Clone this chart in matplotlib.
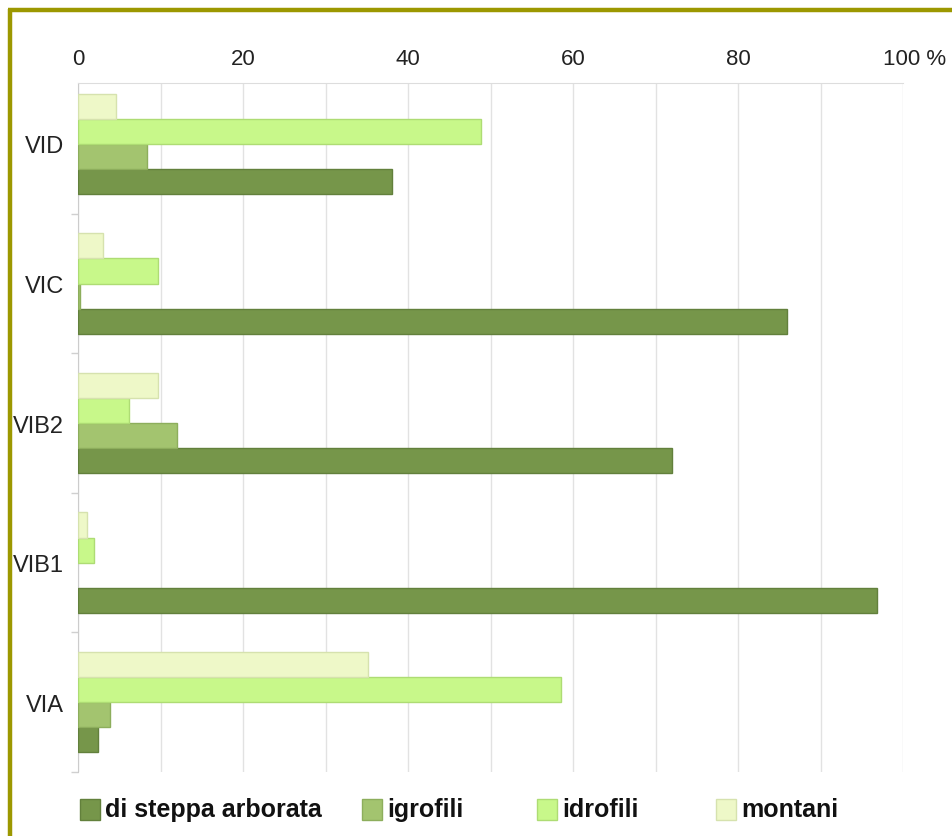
import numpy as np
import matplotlib.pyplot as plt
from matplotlib.patches import Rectangle
from matplotlib.transforms import ScaledTranslation
from matplotlib.lines import Line2D

plt.rcParams['font.family'] = ['Liberation Sans', 'DejaVu Sans']

# data (percent), categories listed bottom -> top
categories = ["VIA", "VIB1", "VIB2", "VIC", "VID"]
series = ["di steppa arborata", "igrofili", "idrofili", "montani"]
steppa = [2.4, 96.8, 72.0, 85.9, 38.1]
igrofili = [3.9, 0.0, 12.0, 0.3, 8.4]
idrofili = [58.5, 1.9, 6.2, 9.7, 48.8]
montani = [35.2, 1.1, 9.7, 3.0, 4.6]
values = [steppa, igrofili, idrofili, montani]

colors = ["#76964a", "#a3c46f", "#c8f88a", "#eef8c8"]
edges = ["#62803c", "#8dae5c", "#aedc74", "#d6e2ae"]

W, H = 952, 837
fig = plt.figure(figsize=(W / 100, H / 100), dpi=100)
ax = fig.add_axes([78 / W, 1 - 773 / H, (903 - 78) / W, (773 - 84) / H])

y = np.arange(len(categories))
h = 0.18
for i, vals in enumerate(values):
    v = np.array(vals)
    ax.barh(y + (i - 1.5) * h, v, height=h, color=colors[i],
            edgecolor=edges[i], linewidth=np.where(v > 0, 1, 0), zorder=3)

ax.set_xlim(0, 100)
ax.set_ylim(-0.498, 4.437)

# x axis on top, gridlines every 10
ax.xaxis.tick_top()
ax.set_xticks([0, 20, 40, 60, 80, 100])
ax.set_xticklabels(["0", "20", "40", "60", "80", "100 %"], fontsize=16, color="#222222")
ax.set_xticks(np.arange(0, 101, 10), minor=True)
ax.tick_params(axis="x", which="both", length=0, pad=10)
ax.grid(axis="x", which="both", color="#e2e2e2", linewidth=1, zorder=0)
lab = ax.get_xticklabels()[-1]
lab.set_transform(lab.get_transform() + ScaledTranslation(0.12, 0, fig.dpi_scale_trans))

# categories on the left, small separator ticks
ax.set_yticks(y)
ax.set_yticklabels(categories, fontsize=17, color="#222222")
ax.set_yticks(np.arange(-0.5, 4.5, 1.0), minor=True)
ax.tick_params(axis="y", which="major", length=0, pad=10)
ax.tick_params(axis="y", which="minor", length=5, color="#d0d0d0", width=1)

for side in ["right", "bottom"]:
    ax.spines[side].set_visible(False)
ax.spines["left"].set_color("#cccccc")
ax.spines["top"].set_color("#dddddd")

# legend drawn along the bottom
leg_x = [80, 362, 537, 716]
for i, name in enumerate(series):
    x0 = leg_x[i]
    fig.add_artist(Rectangle((x0 / W, 1 - 821 / H), 20 / W, 21 / H, transform=fig.transFigure,
                             facecolor=colors[i], edgecolor=edges[i], linewidth=1))
    fig.text((x0 + 25) / W, 1 - 810 / H, name, fontsize=18, fontweight="bold",
             color="#111111", va="center", ha="left")

# olive frame on top and left
fig.add_artist(Line2D([10 / W, 10 / W], [0, 1 - 10 / H], transform=fig.transFigure,
                      color="#9c9800", linewidth=3.2, solid_capstyle="butt"))
fig.add_artist(Line2D([8 / W, 1], [1 - 10.5 / H, 1 - 10.5 / H], transform=fig.transFigure,
                      color="#9c9800", linewidth=3.2, solid_capstyle="butt"))

fig.savefig("out.png", dpi=100)
